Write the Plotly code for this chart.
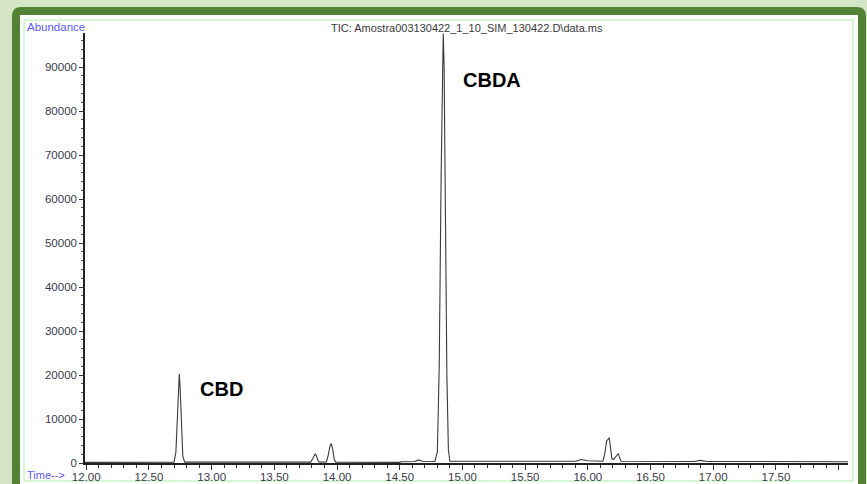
import plotly.graph_objects as go

# ---- data ----
time_min = [11.99, 12.30, 12.60, 12.700, 12.715, 12.727, 12.737, 12.742, 12.748, 12.758, 12.770, 12.785,
            13.50, 13.790, 13.805, 13.818, 13.826, 13.836, 13.850, 13.862, 13.915, 13.930, 13.945, 13.954,
            13.964, 13.978, 13.990, 14.50, 14.51, 14.62, 14.65, 14.68, 14.78, 14.800, 14.815, 14.830,
            14.840, 14.847, 14.854, 14.864, 14.876, 14.888, 14.900, 15.90, 15.95, 16.00, 16.12, 16.135,
            16.150, 16.171, 16.180, 16.192, 16.205, 16.228, 16.242, 16.252, 16.265, 16.85, 16.90, 16.95,
            18.075]
abundance = [150, 150, 150, 200, 2500, 10000, 18500, 20300, 17500, 8000, 1500, 200,
             150, 200, 900, 1900, 2100, 1600, 400, 200, 250, 1800, 4000, 4400,
             3300, 800, 200, 150, 300, 350, 700, 400, 350, 2500, 22000, 65000,
             90000, 97600, 90000, 60000, 20000, 3000, 400, 400, 800, 500, 400, 2000,
             5000, 5700, 3500, 1000, 800, 1800, 2100, 1400, 400, 350, 600, 350,
             300]

x_ticks = [12.0, 12.5, 13.0, 13.5, 14.0, 14.5, 15.0, 15.5, 16.0, 16.5, 17.0, 17.5]
x_tick_text = ["12.00", "12.50", "13.00", "13.50", "14.00", "14.50", "15.00", "15.50",
               "16.00", "16.50", "17.00", "17.50"]
x_major_marks = x_ticks + [18.0]
y_ticks = [0, 10000, 20000, 30000, 40000, 50000, 60000, 70000, 80000, 90000]

peak_labels = ["CBD", "CBDA"]
peak_label_x = [13.077, 15.238]
peak_label_y = [16800, 87000]

title_text = "TIC: Amostra003130422_1_10_SIM_130422.D\\data.ms"
scan_text = "Scan 2150 (13.134 min): Amostra003130422_1_10_SIM_130422.D\\data.ms"

# ---- layout geometry (pixels) ----
W, H = 867, 484
L, R, T, B = 85, 848, 33, 463
X_RANGE = [11.99, 18.075]


def px(p):
    return (p - L) / (R - L)


def py(p):
    return (B - p) / (B - T)


def rounded_rect(x0, y0, x1, y1, r):
    return (f"M {px(x0 + r)} {py(y0)} L {px(x1 - r)} {py(y0)} "
            f"Q {px(x1)} {py(y0)} {px(x1)} {py(y0 + r)} "
            f"L {px(x1)} {py(y1 - r)} Q {px(x1)} {py(y1)} {px(x1 - r)} {py(y1)} "
            f"L {px(x0 + r)} {py(y1)} Q {px(x0)} {py(y1)} {px(x0)} {py(y1 - r)} "
            f"L {px(x0)} {py(y0 + r)} Q {px(x0)} {py(y0)} {px(x0 + r)} {py(y0)} Z")


fig = go.Figure()
fig.add_trace(go.Scatter(x=time_min, y=abundance, mode="lines",
                         line=dict(color="#3a3a3a", width=1.1), hoverinfo="skip",
                         showlegend=False))
# invisible copy on the label axis so that it is drawn
fig.add_trace(go.Scatter(x=time_min, y=abundance, mode="lines", xaxis="x2",
                         line=dict(color="rgba(0,0,0,0)", width=0), hoverinfo="skip",
                         showlegend=False))

font_family = "Arial, Liberation Sans, sans-serif"
tick_font = dict(family=font_family, size=11.5, color="#3a3a4a")

shapes = [
    dict(type="path", xref="paper", yref="paper", path=rounded_rect(12, 7, 866, 500, 9),
         fillcolor="#548235", line=dict(width=0), layer="below"),
    dict(type="rect", xref="paper", yref="paper", x0=px(20), x1=px(858), y0=py(15), y1=py(500),
         fillcolor="white", line=dict(width=0), layer="below"),
    dict(type="rect", xref="paper", yref="paper", x0=px(24), x1=px(853), y0=py(20), y1=py(481),
         fillcolor="rgba(0,0,0,0)", line=dict(color="#c6f5c6", width=1.5), layer="below"),
]

annotations = []
for lab, ax_, ay_ in zip(peak_labels, peak_label_x, peak_label_y):
    annotations.append(dict(x=ax_, y=ay_, xref="x", yref="y", text=f"<b>{lab}</b>",
                            showarrow=False, font=dict(family=font_family, size=20, color="black")))
annotations += [
    dict(x=px(25), y=py(27), xref="paper", yref="paper", xanchor="left", yanchor="middle",
         text="Abundance", showarrow=False, font=dict(family=font_family, size=11.5, color="#5b5bff")),
    dict(x=px(25), y=py(475), xref="paper", yref="paper", xanchor="left", yanchor="middle",
         text="Time-->", showarrow=False, font=dict(family=font_family, size=11, color="#5b5bff")),
    dict(x=px(467), y=py(28), xref="paper", yref="paper", xanchor="center", yanchor="middle",
         text=title_text, showarrow=False, font=dict(family=font_family, size=11, color="#3a3a3a")),
    dict(x=px(25), y=py(490), xref="paper", yref="paper", xanchor="left", yanchor="middle",
         text="Abundance", showarrow=False, font=dict(family=font_family, size=10.5, color="#5b5bff")),
    dict(x=px(455), y=py(490), xref="paper", yref="paper", xanchor="center", yanchor="middle",
         text=scan_text, showarrow=False, font=dict(family=font_family, size=10.5, color="#3a3a3a")),
]

fig.update_layout(
    width=W, height=H,
    margin=dict(l=L, r=W - R, t=T, b=H - B, pad=0),
    paper_bgcolor="#d5e6c6", plot_bgcolor="rgba(0,0,0,0)",
    shapes=shapes, annotations=annotations,
    # axis carrying the line and tick marks
    xaxis=dict(range=X_RANGE, tickvals=x_major_marks, showticklabels=False, automargin=False,
               showgrid=False, zeroline=False, showline=True, linecolor="#222", linewidth=1.5,
               ticks="outside", ticklen=5, tickwidth=1, tickcolor="#333",
               minor=dict(dtick=0.1, tick0=12.0, ticks="outside", ticklen=3, tickcolor="#333",
                          showgrid=False),
               fixedrange=True),
    # overlaid axis carrying only the tick labels (placed close to the line)
    xaxis2=dict(range=X_RANGE, overlaying="x", side="bottom", anchor="y",
                tickvals=x_ticks, ticktext=x_tick_text, automargin=False,
                showgrid=False, zeroline=False, showline=False,
                ticks="outside", ticklen=3, tickcolor="rgba(0,0,0,0)", tickfont=tick_font,
                fixedrange=True),
    yaxis=dict(range=[0, 97727], tickvals=y_ticks, ticktext=[str(v) for v in y_ticks], automargin=False,
               showgrid=False, zeroline=False, showline=True, linecolor="#222", linewidth=1.5,
               ticks="outside", ticklen=4, tickwidth=1, tickcolor="#333", tickfont=tick_font,
               minor=dict(dtick=2000, tick0=0, ticks="outside", ticklen=2, tickcolor="#555",
                          showgrid=False),
               fixedrange=True),
)

fig.write_html("out.html", config={"displayModeBar": False},
               post_script="document.body.style.margin='0';document.body.style.overflow='hidden';")
